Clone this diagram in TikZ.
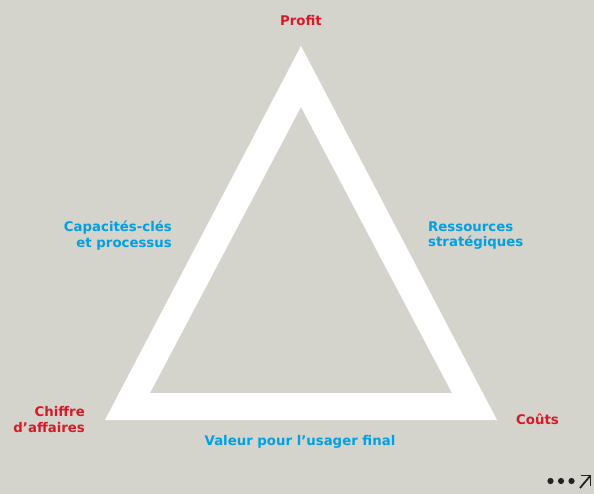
\documentclass[tikz,border=0pt]{standalone}
\usepackage{fontspec}
\setmainfont{DejaVu Sans}
\definecolor{bgpaper}{RGB}{212,211,204}
\definecolor{labred}{RGB}{215,25,40}
\definecolor{labblue}{RGB}{0,160,227}
\definecolor{icondark}{RGB}{35,35,35}
\begin{document}
\begin{tikzpicture}[x=1pt,y=-1pt,
  lab/.style={font=\fontsize{13.3}{15.8}\selectfont\bfseries, inner sep=0pt},
  redlab/.style={lab, text=labred},
  bluelab/.style={lab, text=labblue}]
  % canvas
  \fill[bgpaper] (0,0) rectangle (594,494);
  \useasboundingbox (0,0) rectangle (594,494);
  % white triangular frame
  \fill[white, even odd rule]
    (301,46) -- (497,420) -- (105,420) -- cycle
    (301,107) -- (452,393) -- (150,393) -- cycle;
  % labels at the corners and along the sides
  \node[redlab] (profit) at (301,21) {Profit};
  \node[redlab, align=right, anchor=east] (ca) at (85,419.5) {Chiffre\\d’affaires};
  \node[redlab, anchor=west] (couts) at (516,419) {Coûts};
  \node[bluelab, align=right, anchor=east] (capa) at (172,235.5) {Capacités-clés\\et processus};
  \node[bluelab, align=left, anchor=west] (res) at (428,235.5) {Ressources\\stratégiques};
  \node[bluelab] (valeur) at (300,442) {Valeur pour l’usager final};
  % "more" icon
  \foreach \i/\px in {1/550.5,2/561,3/571.5}
    \fill[icondark] (\px,481) circle (3.1) coordinate (dot\i);
  \coordinate (arrtail) at (580,488);
  \coordinate (arrtip) at (590.5,475.5);
  \draw[icondark, line width=1.8pt] (arrtail) -- (arrtip);
  \draw[icondark, line width=1.8pt, line join=miter] ([xshift=-10pt]arrtip) -- (arrtip) -- ([yshift=-10pt]arrtip);
\end{tikzpicture}
\end{document}
